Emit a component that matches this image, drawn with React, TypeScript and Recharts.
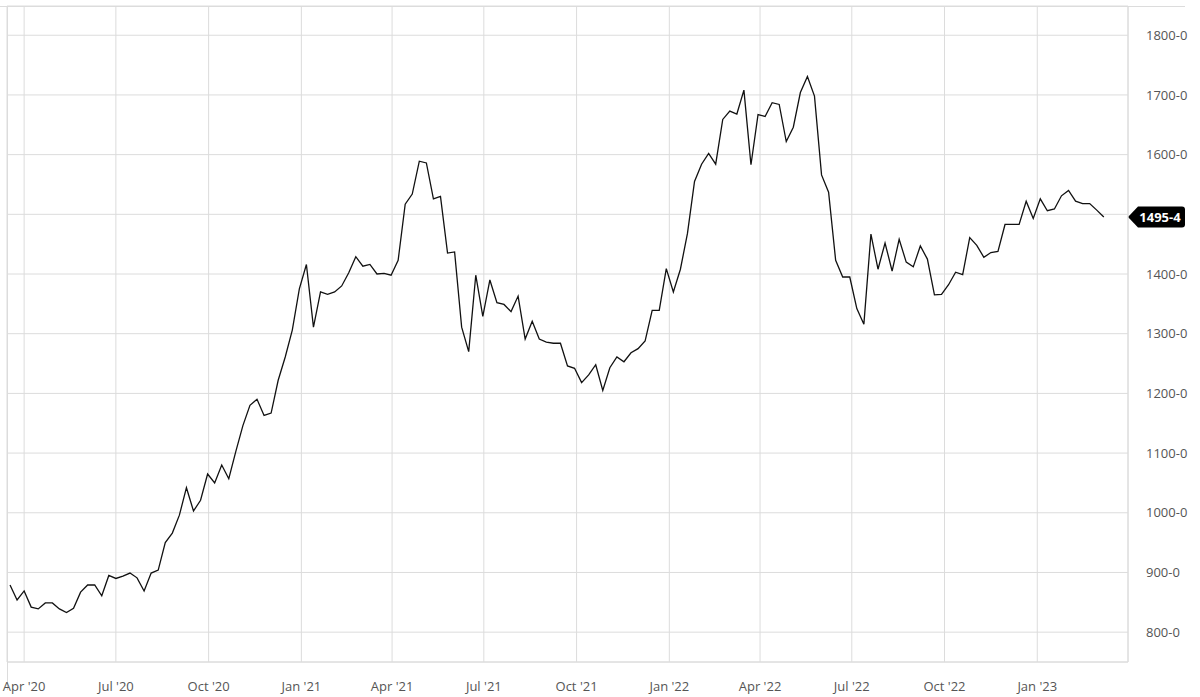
import React from 'react';
import { LineChart, Line, XAxis, YAxis, CartesianGrid, ReferenceLine } from 'recharts';

// weekly closes, first week mid-March 2020
const firstWeek = '2020-03-18';

const prices = [
  879, 854, 869, 842, 839, 849, 849, 839, 833, 840,
  867, 879, 879, 861, 895, 890, 894, 899, 891, 869,
  899, 904, 950, 966, 996, 1042, 1003, 1021, 1065, 1050,
  1080, 1057, 1103, 1146, 1180, 1190, 1163, 1167, 1222, 1261,
  1306, 1375, 1416, 1311, 1370, 1366, 1370, 1380, 1402, 1429,
  1413, 1416, 1400, 1401, 1398, 1423, 1517, 1534, 1589, 1586,
  1526, 1530, 1435, 1437, 1311, 1270, 1398, 1329, 1390, 1352,
  1349, 1337, 1363, 1291, 1321, 1291, 1286, 1284, 1284, 1246,
  1242, 1218, 1231, 1248, 1205, 1243, 1261, 1253, 1268, 1275,
  1288, 1339, 1339, 1409, 1370, 1408, 1468, 1555, 1584, 1602,
  1584, 1659, 1673, 1668, 1708, 1583, 1667, 1664, 1687, 1684,
  1622, 1646, 1704, 1731, 1698, 1566, 1537, 1423, 1395, 1395,
  1342, 1316, 1467, 1408, 1452, 1405, 1458, 1420, 1412, 1447,
  1425, 1365, 1366, 1382, 1403, 1399, 1461, 1448, 1428, 1436,
  1438, 1483, 1483, 1483, 1522, 1493, 1526, 1506, 1509, 1531,
  1540, 1522, 1518, 1518, 1507, 1495.4,
];

const quarterDates = [
  '2020-04-01', '2020-07-01', '2020-10-01', '2021-01-01', '2021-04-01', '2021-07-01',
  '2021-10-01', '2022-01-01', '2022-04-01', '2022-07-01', '2022-10-01', '2023-01-01',
];
const quarterLabels = [
  "Apr '20", "Jul '20", "Oct '20", "Jan '21", "Apr '21", "Jul '21",
  "Oct '21", "Jan '22", "Apr '22", "Jul '22", "Oct '22", "Jan '23",
];

const priceTicks = [800, 900, 1000, 1100, 1200, 1300, 1400, 1500, 1600, 1700, 1800];

const timeDomain = [Date.parse('2020-03-15'), Date.parse('2023-04-01')];
const priceDomain = [750, 1849];

const DAY = 24 * 3600 * 1000;
const start = Date.parse(firstWeek);
const data = prices.map((price, i) => ({ time: start + i * 7 * DAY, price }));
const xTicks = quarterDates.map((d) => Date.parse(d));
const lastPrice = prices[prices.length - 1];

const fmtPrice = (v: number) => v.toFixed(1).replace('.', '-');
const fmtTime = (t: number) => quarterLabels[xTicks.indexOf(t)] ?? '';
// the last-price tag sits on top of the nearest axis label
const fmtAxisPrice = (v: number) => (Math.abs(v - lastPrice) < 30 ? '' : fmtPrice(v));

const tickStyle = { fill: '#555', fontSize: 13, fontFamily: 'Open Sans' };

const PriceTag = (props: any) => {
  const { viewBox } = props;
  if (!viewBox) return null;
  const x = viewBox.x + viewBox.width;
  const y = viewBox.y;
  const h = 10.5;
  const d = `M${x},${y} L${x + 10},${y - h} L${x + 54},${y - h} Q${x + 57},${y - h} ${x + 57},${y - h + 3}
    L${x + 57},${y + h - 3} Q${x + 57},${y + h} ${x + 54},${y + h} L${x + 10},${y + h} Z`;
  return (
    <g>
      <path d={d} fill="#000" />
      <text x={x + 32} y={y} dy="0.35em" textAnchor="middle" fill="#fff"
        fontSize={13} fontWeight="bold" fontFamily="Open Sans">
        {fmtPrice(lastPrice)}
      </text>
    </g>
  );
};

export default function App() {
  return (
    <div style={{ position: 'absolute', left: 0, top: 0, width: 1200, height: 697, background: '#fff' }}>
      <div style={{ position: 'absolute', left: 0, top: 6, width: 1185, height: 1, background: '#dcdcdc' }} />
      <div style={{ position: 'absolute', left: 7, top: 6, width: 1, height: 684, background: '#dcdcdc' }} />
      <LineChart
        width={1200}
        height={697}
        data={data}
        margin={{ top: 6, right: 0, bottom: 0, left: 7 }}
        style={{ position: 'absolute', left: 0, top: 0 }}
      >
        <CartesianGrid stroke="#dcdcdc" strokeWidth={1} />
        <XAxis
          dataKey="time"
          type="number"
          scale="time"
          domain={timeDomain}
          ticks={xTicks}
          tickFormatter={fmtTime}
          tick={tickStyle}
          tickLine={false}
          tickMargin={14}
          axisLine={{ stroke: '#dcdcdc' }}
          height={35}
          allowDataOverflow
        />
        <YAxis
          orientation="right"
          type="number"
          domain={priceDomain}
          ticks={priceTicks}
          tickFormatter={fmtAxisPrice}
          tick={{ ...tickStyle, textAnchor: 'start' }}
          tickLine={false}
          tickMargin={12}
          axisLine={{ stroke: '#dcdcdc' }}
          width={72}
          allowDataOverflow
        />
        <Line
          type="linear"
          dataKey="price"
          stroke="#111"
          strokeWidth={1.3}
          dot={false}
          isAnimationActive={false}
        />
        <ReferenceLine y={lastPrice} stroke="none" strokeWidth={0} label={<PriceTag />} />
      </LineChart>
    </div>
  );
}
